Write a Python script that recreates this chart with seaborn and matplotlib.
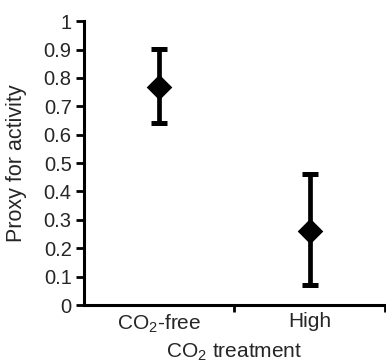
import matplotlib
matplotlib.use("Agg")
import matplotlib.pyplot as plt
import seaborn as sns
import pandas as pd
from matplotlib.ticker import FixedLocator, NullFormatter

# values
treatments = [r"CO$_\mathregular{2}$-free", "High"]
means = [0.768, 0.260]
upper = [0.903, 0.460]
lower = [0.640, 0.072]
y_ticks = [0, 0.1, 0.2, 0.3, 0.4, 0.5, 0.6, 0.7, 0.8, 0.9, 1]
y_labels = ["0", "0.1", "0.2", "0.3", "0.4", "0.5", "0.6", "0.7", "0.8", "0.9", "1"]

sns.set_theme(style="ticks")
plt.rcParams["font.family"] = ["Liberation Sans", "DejaVu Sans"]
plt.rcParams["mathtext.fontset"] = "custom"
plt.rcParams["mathtext.rm"] = "Liberation Sans"

df = pd.DataFrame({"treatment": treatments, "mean": means})
pos = list(range(len(treatments)))

fig = plt.figure(figsize=(3.86, 3.64), dpi=100)
ax = fig.add_axes([0.218, 0.162, 0.779, 0.78])

yerr = [[m - lo for m, lo in zip(means, lower)], [hi - m for m, hi in zip(means, upper)]]
ax.errorbar(pos, means, yerr=yerr, fmt="none", ecolor="black",
            elinewidth=3.4, capsize=5.5, capthick=3.6, zorder=2)
sns.scatterplot(data=df, x=pos, y="mean", marker="D", s=170, color="black",
                edgecolor="black", linewidth=0, ax=ax, zorder=3, legend=False)

ax.set_xlim(-0.5, 1.5)
ax.set_ylim(0, 1)
ax.set_xticks(pos)
ax.set_xticklabels(treatments, fontsize=15)
ax.tick_params(axis="x", which="major", length=0, pad=5)
ax.xaxis.set_minor_locator(FixedLocator([0.5, 1.5]))
ax.xaxis.set_minor_formatter(NullFormatter())
ax.tick_params(axis="x", which="minor", length=5, width=2, direction="out", color="black")
ax.set_yticks(y_ticks)
ax.set_yticklabels(y_labels, fontsize=14.5)
ax.tick_params(axis="y", length=6, width=2, direction="out", color="black", pad=3)

ax.set_xlabel(r"CO$_\mathregular{2}$ treatment", fontsize=15, labelpad=5)
ax.set_ylabel("Proxy for activity", fontsize=15.5, labelpad=12)

sns.despine(ax=ax)
for side in ["left", "bottom"]:
    ax.spines[side].set_linewidth(2.2)
    ax.spines[side].set_color("black")

fig.savefig("out.png", dpi=100)
